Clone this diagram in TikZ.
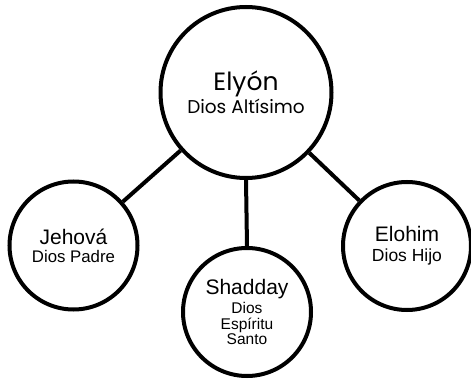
\documentclass[tikz,border=0pt]{standalone}
\usepackage{fontspec}
\setmainfont{Liberation Sans}
\newfontfamily\gothic{Poppins}
\usepackage{tikz}
\usetikzlibrary{positioning}

\begin{document}
\begin{tikzpicture}[
    x=1pt, y=-1pt,
    god/.style={
      circle,
      draw,
      line width=4pt,
      fill=white,
      align=center,
      inner sep=0pt
    },
    big/.style={minimum size=171pt},
    small/.style={minimum size=128pt},
    link/.style={line width=4pt}
  ]

    % frame of the reference
    \useasboundingbox (0,0) rectangle (471,379);

    % Top: the Most High
    \node[god, big, font=\gothic\fontsize{18.5}{23}\selectfont] (elyon) at (246,92.5)
      {{\fontsize{25}{25}\selectfont Elyón}\\Dios Altísimo};

    % Lower row: three persons
    \node[god, small, font=\fontsize{16.8}{18}\selectfont] (jehova) at (73.5,245.5)
      {{\fontsize{21}{21}\selectfont Jehová}\\Dios Padre};
    \node[god, small, font=\fontsize{15.5}{15.5}\selectfont] (shadday) at (247,312)
      {{\fontsize{21}{21}\selectfont Shadday}\\[3pt]Dios\\Espíritu\\Santo};
    \node[god, small, font=\fontsize{17.5}{20}\selectfont] (elohim) at (407,246)
      {{\fontsize{21}{21}\selectfont Elohim}\\Dios Hijo};

    \draw[link] (elyon) -- (jehova);
    \draw[link] (elyon.south) -- (shadday.north);
    \draw[link] (elyon) -- (elohim);

  \end{tikzpicture}
\end{document}
